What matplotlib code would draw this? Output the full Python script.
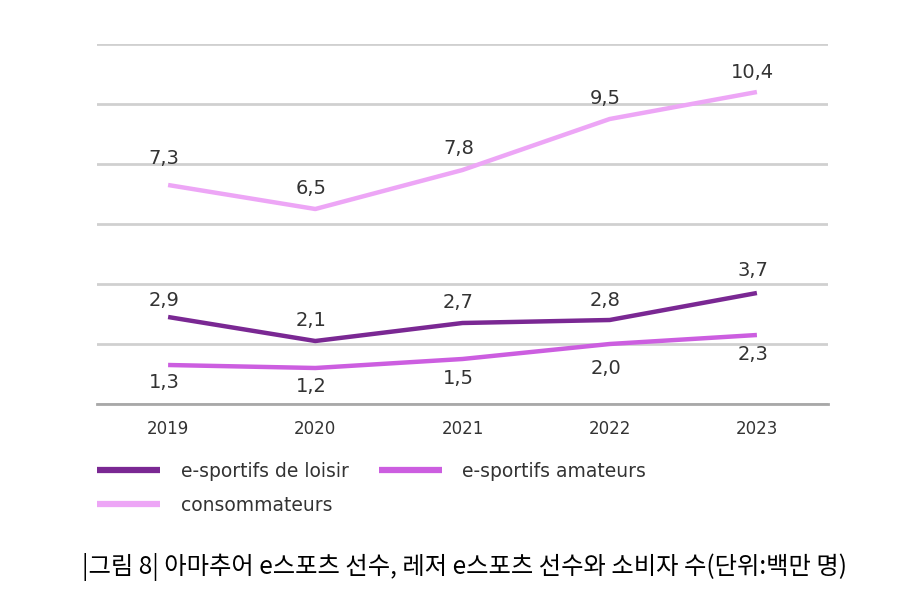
import matplotlib.pyplot as plt

years = ['2019', '2020', '2021', '2022', '2023']
loisir = [2.9, 2.1, 2.7, 2.8, 3.7]
amateurs = [1.3, 1.2, 1.5, 2.0, 2.3]
conso = [7.3, 6.5, 7.8, 9.5, 10.4]

c_loisir = '#7a2893'
c_amat = '#cc5ee0'
c_conso = '#eda6f6'

fig = plt.figure(figsize=(9.13, 6.1), dpi=100)
ax = fig.add_axes([97/913, 206/610, 731/913, 360/610])

x = list(range(len(years)))
l1, = ax.plot(x, loisir, color=c_loisir, lw=3.2, solid_capstyle='butt')
l2, = ax.plot(x, amateurs, color=c_amat, lw=3.2, solid_capstyle='butt')
l3, = ax.plot(x, conso, color=c_conso, lw=3.2, solid_capstyle='butt')

ax.set_xlim(-0.483, 4.483)
ax.set_ylim(0, 12)
ax.set_yticks(range(0, 13, 2))
ax.grid(axis='y', color='#d0d0d0', lw=2)
ax.axhline(0, color='#a8a8a8', lw=2, zorder=1, clip_on=False)
ax.set_axisbelow(True)
for s in ax.spines.values():
    s.set_visible(False)
ax.tick_params(left=False, labelleft=False, bottom=False)
ax.set_xticks(x)
ax.set_xticklabels(years, fontsize=12, color='#333333')
ax.tick_params(axis='x', pad=8)

def fmt(v):
    return f'{v:.1f}'.replace('.', ',')

# label offsets in pixels
off_conso = [27, 21, 21, 20, 19]
off_loisir = [17, 21, 20, 20, 23]
off_amat = [-18, -19, -19, -25, -19]
for vals, offs in [(conso, off_conso), (loisir, off_loisir), (amateurs, off_amat)]:
    for xi, v, o in zip(x, vals, offs):
        ax.annotate(fmt(v), (xi, v), xytext=(-3, o*0.72), textcoords='offset points',
                    ha='center', va='center', fontsize=14, color='#333333')

leg = fig.legend([l1, l3, l2], ['e-sportifs de loisir', 'consommateurs', 'e-sportifs amateurs'],
                 ncol=2, frameon=False, loc='upper left', bbox_to_anchor=(97/913, 1-462/610),
                 borderpad=0, borderaxespad=0,
                 fontsize=13.5, handlelength=3.36, handletextpad=1.1, columnspacing=1.6,
                 labelspacing=0.8, labelcolor='#333333')
for h in leg.legend_handles:
    h.set_linewidth(4.5)

fig.text(464/913, 1-567/610, '|그림 8| 아마추어 e스포츠 선수, 레저 e스포츠 선수와 소비자 수(단위:백만 명)',
         ha='center', va='center', fontsize=17.5, family=['Noto Sans CJK KR', 'DejaVu Sans'])

fig.savefig('out.png', dpi=100)
